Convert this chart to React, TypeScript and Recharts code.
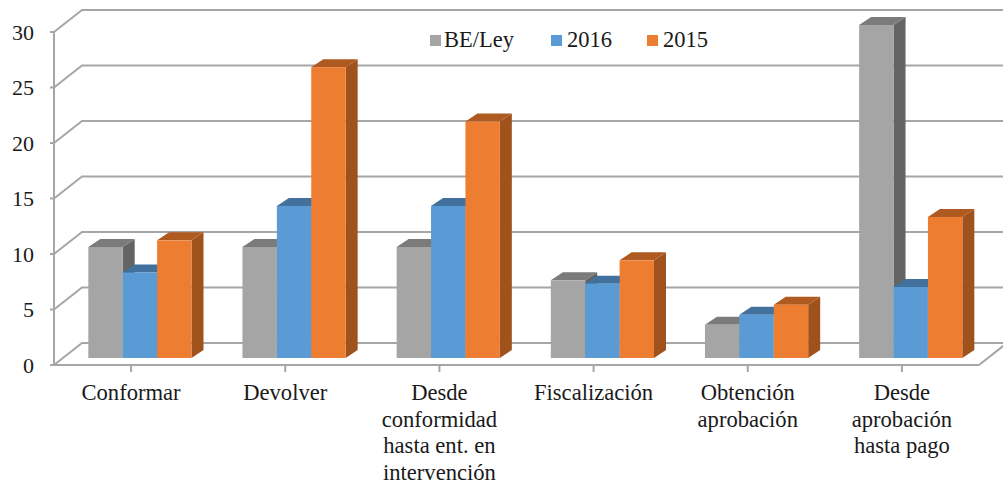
import { BarChart, Bar, XAxis, YAxis, CartesianGrid, Legend } from "recharts";

const categories = [
  "Conformar",
  "Devolver",
  "Desde\nconformidad\nhasta ent. en\nintervención",
  "Fiscalización",
  "Obtención\naprobación",
  "Desde\naprobación\nhasta pago",
];
const beLey = [10, 10, 10, 7, 3, 30];
const y2016 = [7.7, 13.7, 13.7, 6.7, 3.9, 6.4];
const y2015 = [10.6, 26.2, 21.3, 8.8, 4.8, 12.7];
const yTicks = [0, 5, 10, 15, 20, 25, 30];

const data = categories.map((name, i) => ({
  name,
  beLey: beLey[i],
  y2016: y2016[i],
  y2015: y2015[i],
}));

const FONT = '"Liberation Serif", "Times New Roman", serif';
const TEXT = "#1a1a1a";
const GRID = "#a6a6a6";

// how far the back wall sits from the front of the chart
const WALL_DX = 28;
const WALL_DY = 22;
// bars stand a bit into the floor, and have their own depth
const BAR_DX = 9.3;
const BAR_DY = 7;
const DEPTH_X = 12;
const DEPTH_Y = 8;

const Bar3D = ({ x, y, width, height, fill, top, side }: any) => {
  const x0 = x + BAR_DX;
  const y0 = y - BAR_DY;
  const x1 = x0 + width;
  const y1 = y0 + height;
  return (
    <g>
      <polygon
        points={`${x1},${y0} ${x1 + DEPTH_X},${y0 - DEPTH_Y} ${x1 + DEPTH_X},${y1 - DEPTH_Y} ${x1},${y1}`}
        fill={side}
      />
      <polygon
        points={`${x0},${y0} ${x0 + DEPTH_X},${y0 - DEPTH_Y} ${x1 + DEPTH_X},${y0 - DEPTH_Y} ${x1},${y0}`}
        fill={top}
      />
      <rect x={x0} y={y0} width={width} height={height} fill={fill} />
    </g>
  );
};

const GridLine = ({ x1, y1, x2, y, height }: any) => {
  const isFloor = Math.abs(y1 - (y + height)) < 0.5;
  return (
    <g fill="none" stroke={GRID} strokeWidth={2}>
      <path
        d={`M${x1},${y1} L${x1 + WALL_DX},${y1 - WALL_DY} L1003,${y1 - WALL_DY}`}
      />
      {isFloor && (
        <path d={`M${x2},${y1} L${x2 + WALL_DX},${y1 - WALL_DY}`} />
      )}
    </g>
  );
};

const CategoryTick = ({ x, y, payload }: any) => (
  <text
    x={x}
    y={y}
    textAnchor="middle"
    fontFamily={FONT}
    fontSize={22.6}
    fill={TEXT}
  >
    {String(payload.value)
      .split("\n")
      .map((line, i) => (
        <tspan key={i} x={x} dy={i === 0 ? 26 : 26.5}>
          {line}
        </tspan>
      ))}
  </text>
);

const legendLefts = [0, 121, 217];

const LegendRow = ({ payload }: any) => (
  <div style={{ position: "relative", height: 30 }}>
    {(payload || []).map((item: any, i: number) => (
      <div
        key={item.value}
        style={{
          position: "absolute",
          left: legendLefts[i],
          top: 0,
          display: "flex",
          alignItems: "center",
          whiteSpace: "nowrap",
          fontFamily: FONT,
          fontSize: 22.5,
          color: TEXT,
          lineHeight: "26px",
        }}
      >
        <span
          style={{
            width: 11,
            height: 11,
            background: item.color,
            marginRight: i === 0 ? 3 : 5,
            display: "inline-block",
          }}
        />
        {item.value}
      </div>
    ))}
  </div>
);

export default function App() {
  return (
    <div style={{ position: "absolute", left: 0, top: 0, width: 1003, height: 483, overflow: "hidden", background: "#fff" }}>
      <BarChart
        width={1003}
        height={483}
        data={data}
        barSize={34.4}
        barGap={0}
        barCategoryGap={0}
        margin={{ top: 2, right: 24, bottom: 0, left: 0 }}
      >
        <CartesianGrid
          vertical={false}
          horizontal={(props: any) => <GridLine key={props.index} {...props} />}
        />
        <XAxis
          dataKey="name"
          interval={0}
          height={118}
          tick={<CategoryTick />}
          tickSize={7}
          axisLine={{ stroke: GRID, strokeWidth: 2 }}
          tickLine={{ stroke: GRID, strokeWidth: 2 }}
        />
        <YAxis
          width={54}
          domain={[0, 30]}
          ticks={yTicks}
          tickSize={4}
          tickMargin={16}
          interval={0}
          tick={{ fontFamily: FONT, fontSize: 22, fill: TEXT }}
          axisLine={{ stroke: GRID, strokeWidth: 2 }}
          tickLine={{ stroke: GRID, strokeWidth: 2 }}
        />
        <Legend
          content={<LegendRow />}
          verticalAlign="top"
          itemSorter={null}
          wrapperStyle={{ left: 430, top: 27, width: 320, height: 30 }}
        />
        <Bar
          dataKey="beLey"
          name="BE/Ley"
          fill="#a5a5a5"
          isAnimationActive={false}
          shape={<Bar3D top="#7b7b7b" side="#646464" />}
        />
        <Bar
          dataKey="y2016"
          name="2016"
          fill="#5b9bd5"
          isAnimationActive={false}
          shape={<Bar3D top="#41719c" side="#3f75a6" />}
        />
        <Bar
          dataKey="y2015"
          name="2015"
          fill="#ed7d31"
          isAnimationActive={false}
          shape={<Bar3D top="#ae5a21" side="#a0521d" />}
        />
      </BarChart>
    </div>
  );
}
